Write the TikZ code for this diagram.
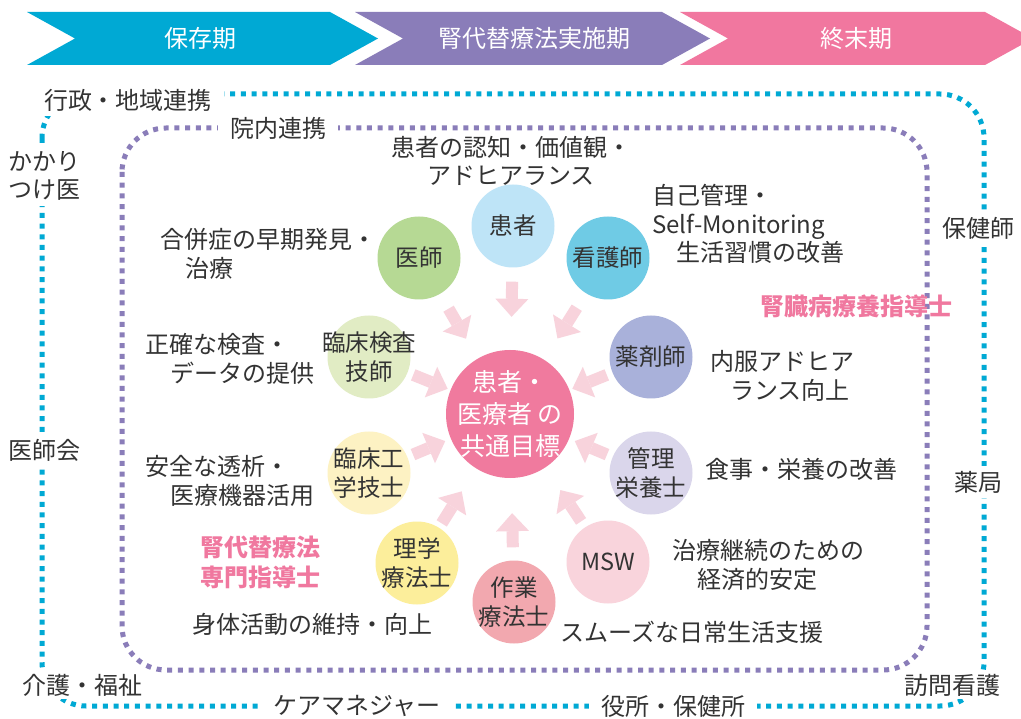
\documentclass[tikz,border=0pt]{standalone}
\usepackage{fontspec}
\setmainfont{Noto Sans CJK JP}
\usetikzlibrary{arrows.meta}
\definecolor{cyanB}{HTML}{00A9D4}
\definecolor{purpB}{HTML}{8A7DB9}
\definecolor{pinkB}{HTML}{F1779F}
\definecolor{txt}{HTML}{333333}
\definecolor{arr}{HTML}{F8D3DC}
\definecolor{cPat}{HTML}{BEE4F7}
\definecolor{cNur}{HTML}{6FCBE5}
\definecolor{cDoc}{HTML}{B6D994}
\definecolor{cLab}{HTML}{E1ECC4}
\definecolor{cPha}{HTML}{A9B1DA}
\definecolor{cCE}{HTML}{FDF2C3}
\definecolor{cDie}{HTML}{DAD6EB}
\definecolor{cPT}{HTML}{FCEE9B}
\definecolor{cOT}{HTML}{F2A8AF}
\definecolor{cMSW}{HTML}{F9D4DC}
\definecolor{cGoal}{HTML}{F07A9E}
\definecolor{pinkT}{HTML}{F0789F}
\begin{document}
\begin{tikzpicture}[x=1pt,y=-1pt,
  lbl/.style={font=\fontsize{24}{28.5}\selectfont, text=txt, inner sep=0pt},
  gap/.style={fill=white, inner xsep=12pt, inner ysep=5pt},
  ban/.style={font=\fontsize{24}{28}\selectfont, text=white, inner sep=0pt},
  role/.style={circle, minimum size=83pt, inner sep=0pt},
  roletxt/.style={font=\fontsize{23.5}{29.5}\selectfont, text=txt, align=center, inner sep=0pt},
  pinklbl/.style={font=\fontsize{24}{30}\selectfont\bfseries, text=pinkT, align=center, inner sep=0pt},
  parrow/.style={color=arr, line width=12pt, -{Triangle[width=33pt,length=18pt,line width=0pt]}},
  cdot/.style={draw=cyanB, line width=5pt, dash pattern=on 5pt off 5.7pt, rounded corners=44pt},
  pdot/.style={draw=purpB, line width=5pt, dash pattern=on 5pt off 5.7pt, rounded corners=44pt}]
\useasboundingbox (0,0) rectangle (1021,719);
\fill[white] (0,0) rectangle (1021,719);

% banner chevrons
\fill[cyanB] (27,12) -- (330,12) -- (378,38.5) -- (330,65) -- (27,65) -- (75,38.5) -- cycle;
\fill[purpB] (355,12) -- (662,12) -- (710,38.5) -- (662,65) -- (355,65) -- (403,38.5) -- cycle;
\fill[pinkB] (680,12) -- (985,12) -- (1033,38.5) -- (985,65) -- (680,65) -- (728,38.5) -- cycle;
\node[ban] (p1) at (200,38) {保存期};
\node[ban] (p2) at (534,38) {腎代替療法実施期};
\node[ban] (p3) at (856,38) {終末期};

% dotted frames
\draw[cdot] (42,94) rectangle (984,706);
\draw[pdot] (122,128) rectangle (927,670);

% frame labels
\node[lbl,gap] (gyosei) at (128,100) {行政・地域連携};
\node[lbl,gap,align=left,inner xsep=4pt] (kakari) at (45,176) {かかり\\つけ医};
\node[lbl,gap,inner xsep=4pt] (ishikai) at (45,450) {医師会};
\node[lbl,gap,inner ysep=3pt] (kaigo) at (83,685) {介護・福祉};
\node[lbl,gap] (caremane) at (357,706) {ケアマネジャー};
\node[lbl,gap] (yakusho) at (673,706) {役所・保健所};
\node[lbl,gap,inner ysep=3pt] (homon) at (952,685) {訪問看護};
\node[lbl,gap,inner xsep=4pt] (yakkyoku) at (978,482) {薬局};
\node[lbl,gap,inner xsep=4pt] (hokenshi) at (978,228) {保健師};
\node[lbl,gap] (innai) at (278,128) {院内連携};

% role circles
\node[role, fill=cPat, label={[roletxt]center:患者}] (kanja) at (513,226) {};
\node[role, fill=cNur, label={[roletxt]center:看護師}] (kango) at (608,258) {};
\node[role, fill=cDoc, label={[roletxt]center:医師}] (ishi) at (419,258) {};
\node[role, fill=cLab, label={[roletxt]center:臨床検査\\技師}] (kensa) at (369,357) {};
\node[role, fill=cPha, label={[roletxt]center:薬剤師}] (yakuzai) at (651,357) {};
\node[role, fill=cCE, label={[roletxt]center:臨床工\\学技士}] (kogaku) at (369,473) {};
\node[role, fill=cDie, label={[roletxt]center:管理\\栄養士}] (eiyo) at (651,473) {};
\node[role, fill=cPT, label={[roletxt]center:理学\\療法士}] (rigaku) at (417,563) {};
\node[role, fill=cOT, label={[roletxt]center:作業\\療法士}] (sagyo) at (514,602) {};
\node[role, fill=cMSW, label={[roletxt]center:MSW}] (msw) at (608,562) {};
\node[circle, minimum size=128pt, inner sep=0pt, fill=cGoal,
  label={[font=\fontsize{25}{32}\selectfont, text=white, align=center]center:患者・\\医療者 の\\共通目標}] (goal) at (510,414) {};

% arrows to goal
\draw[parrow, shorten <=14pt, shorten >=33pt] (kanja) -- (goal);
\draw[parrow, shorten <=17pt, shorten >=23pt] (ishi) -- (goal);
\draw[parrow, shorten <=17pt, shorten >=25pt] (kango) -- (goal);
\draw[parrow, shorten <=6pt, shorten >=3pt] (kensa) -- (goal);
\draw[parrow, shorten <=6pt, shorten >=3pt] (yakuzai) -- (goal);
\draw[parrow, shorten <=6pt, shorten >=6pt] (kogaku) -- (goal);
\draw[parrow, shorten <=6pt, shorten >=6pt] (eiyo) -- (goal);
\draw[parrow, shorten <=5pt, shorten >=27pt] (rigaku) -- (goal);
\draw[parrow, shorten <=7pt, shorten >=27pt] (msw) -- (goal);
\draw[parrow, shorten <=13pt, shorten >=35pt] (sagyo) -- (goal);

% descriptive labels
\node[lbl, align=center] (ninchi) at (511,161) {患者の認知・価値観・\\アドヒアランス};
\node[lbl, align=left, anchor=west] (jiko) at (652,224) {自己管理・\\Self-Monitoring\\\hspace*{24pt}生活習慣の改善};
\node[lbl, align=left, anchor=west] (gappei) at (160,254) {合併症の早期発見・\\\hspace*{25pt}治療};
\node[lbl, align=left, anchor=west] (seikaku) at (145,359) {正確な検査・\\\hspace*{25pt}データの提供};
\node[lbl, align=left, anchor=west] (anzen) at (145,481) {安全な透析・\\\hspace*{25pt}医療機器活用};
\node[lbl, align=left, anchor=west] (naifuku) at (710,376) {内服アドヒア\\\hspace*{20pt}ランス向上};
\node[lbl, anchor=west] (shokuji) at (705,469) {食事・栄養の改善};
\node[lbl, align=left, anchor=west] (keizai) at (672,565) {治療継続のための\\\hspace*{25pt}経済的安定};
\node[lbl, anchor=west] (smooth) at (560,632) {スムーズな日常生活支援};
\node[lbl, anchor=west] (shintai) at (192,624) {身体活動の維持・向上};
\node[pinklbl] (jinzo) at (856,306) {腎臓病療養指導士};
\node[pinklbl] (jindai) at (260,562) {腎代替療法\\専門指導士};
\end{tikzpicture}
\end{document}
